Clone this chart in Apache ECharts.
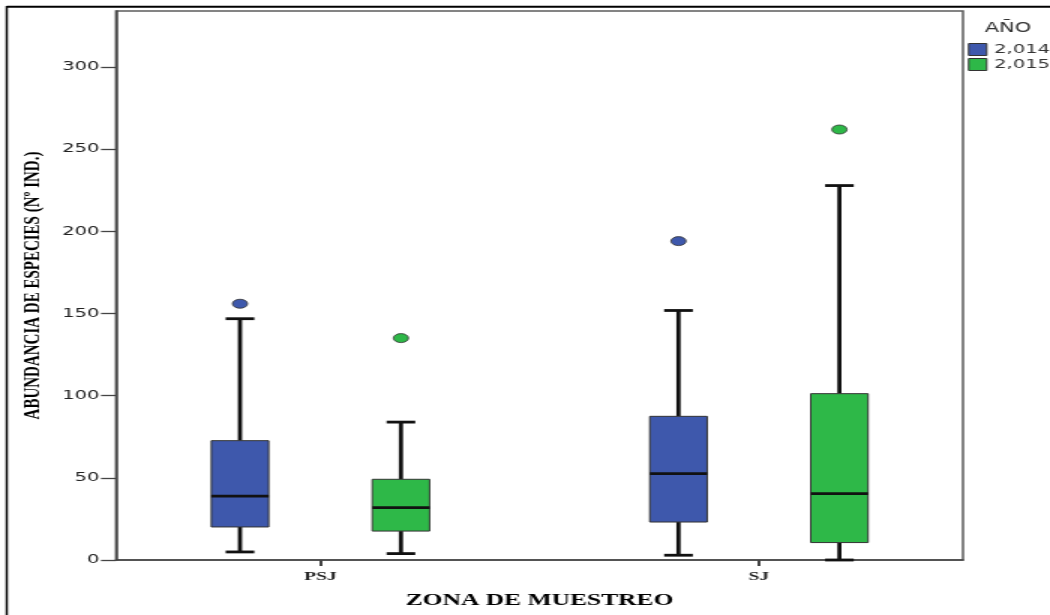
<!DOCTYPE html>
<html>
<head>
<meta charset="utf-8">
<title>Abundancia de especies por zona de muestreo</title>
<script src="https://cdn.jsdelivr.net/npm/echarts@6/dist/echarts.min.js"></script>
<style>
  html, body { margin: 0; padding: 0; background: #fff; overflow: hidden; }
  #wrap { width: 1050px; height: 615px; overflow: hidden; position: relative; background: #fff; }
  /* the chart is laid out narrow and widened horizontally, like the exported figure */
  #chart { width: 700px; height: 615px; transform: scaleX(1.5); transform-origin: 0 0; }
</style>
</head>
<body>
<div id="wrap"><div id="chart"></div></div>
<script>
// Sampling zones and survey years
const zones = ['PSJ', 'SJ'];
const years = ['2,014', '2,015'];

// Box summaries per zone: [lower whisker, Q1, median, Q3, upper whisker]
const stats2014 = [
  [4.9, 20.1, 38.9, 72.6, 146.8],   // PSJ
  [2.9, 23.1, 52.5, 87.4, 151.8]    // SJ
];
const stats2015 = [
  [3.9, 17.6, 31.9, 49.1, 83.9],    // PSJ
  [0.0, 10.6, 40.4, 101.2, 227.8]   // SJ
];

// Outlying observations per zone
const outliers2014 = [[155.9], [194.0]];
const outliers2015 = [[135.0], [261.9]];

// Vertical axis ticks
const yTicks = [0, 50, 100, 150, 200, 250, 300];

// ---- layout & style (not data) ----
const STRETCH = 1.5;                 // horizontal widening applied by CSS
const X_MAX = 10;                    // horizontal axis runs 0..10
const zoneCenter = [2.414, 7.591];   // centre of each zone's cluster
const yearOffset = [-0.95, 0.95];    // each year's shift inside a cluster
const BOX_W = 0.677;                 // box width in axis units
const colors = ['#3E58AC', '#2EB848'];
const statsByYear = [stats2014, stats2015];
const outliersByYear = [outliers2014, outliers2015];

function renderBox(params, api) {
  const x = api.value(0);
  const p = [1, 2, 3, 4, 5].map(function (d) { return api.coord([x, api.value(d)]); });
  const cx = p[0][0];
  const half = api.size([BOX_W, 0])[0] / 2;
  const cap = half / 2;
  const whisk = { stroke: '#111', lineWidth: 2.8 };
  return {
    type: 'group',
    children: [
      { type: 'line', shape: { x1: cx, y1: p[0][1], x2: cx, y2: p[1][1] }, style: whisk },
      { type: 'line', shape: { x1: cx, y1: p[3][1], x2: cx, y2: p[4][1] }, style: whisk },
      { type: 'line', shape: { x1: cx - cap, y1: p[0][1], x2: cx + cap, y2: p[0][1] }, style: whisk },
      { type: 'line', shape: { x1: cx - cap, y1: p[4][1], x2: cx + cap, y2: p[4][1] }, style: whisk },
      {
        type: 'rect',
        shape: { x: cx - half, y: p[3][1], width: half * 2, height: p[1][1] - p[3][1] },
        style: { fill: api.visual('color'), stroke: '#333', lineWidth: 1 }
      },
      { type: 'line', shape: { x1: cx - half, y1: p[2][1], x2: cx + half, y2: p[2][1] }, style: { stroke: '#111', lineWidth: 2.8 } }
    ]
  };
}

const series = [];
years.forEach(function (year, j) {
  series.push({
    name: year,
    type: 'custom',
    renderItem: renderBox,
    itemStyle: { color: colors[j] },
    encode: { x: 0, y: [1, 2, 3, 4, 5] },
    data: statsByYear[j].map(function (s, i) { return [zoneCenter[i] + yearOffset[j]].concat(s); }),
    z: 3
  });
  const pts = [];
  outliersByYear[j].forEach(function (vals, i) {
    vals.forEach(function (v) { pts.push([zoneCenter[i] + yearOffset[j], v]); });
  });
  series.push({
    name: year,
    type: 'scatter',
    symbol: 'circle',
    symbolSize: [10, 9],
    itemStyle: { color: colors[j], borderColor: '#333', borderWidth: 0.8, opacity: 1 },
    data: pts,
    z: 4
  });
});

const chart = echarts.init(document.getElementById('chart'), null, { renderer: 'canvas' });
chart.setOption({
  backgroundColor: '#fff',
  animation: false,
  title: {
    text: 'AÑO',
    left: 656.5, top: 21, padding: 0,
    textStyle: { fontFamily: 'DejaVu Sans', fontSize: 14, fontWeight: 'normal', color: '#333' }
  },
  legend: {
    data: years,
    orient: 'vertical',
    left: 645.3, top: 43, padding: 0,
    itemWidth: 12, itemHeight: 12, itemGap: 2,
    icon: 'rect',
    itemStyle: { borderColor: '#333', borderWidth: 1 },
    textStyle: { fontFamily: 'DejaVu Sans', fontSize: 13, color: '#333', lineHeight: 12 }
  },
  grid: {
    left: 116 / STRETCH, top: 11, width: (963 - 116) / STRETCH, height: 549,
    show: true, borderColor: '#5c5c5c', borderWidth: 1.5, backgroundColor: '#fff'
  },
  xAxis: {
    type: 'value', min: 0, max: X_MAX,
    name: 'ZONA DE MUESTREO', nameLocation: 'middle', nameGap: 32,
    nameTextStyle: { fontFamily: 'Liberation Serif', fontWeight: 'bold', fontSize: 17, color: '#000' },
    axisLine: { show: true, lineStyle: { color: '#444', width: 1.5 } },
    axisTick: { show: true, customValues: zoneCenter, length: 6, lineStyle: { color: '#444', width: 2 } },
    axisLabel: {
      customValues: zoneCenter, margin: 10,
      fontFamily: 'Liberation Serif', fontWeight: 'bold', fontSize: 13, color: '#222',
      formatter: function (v) { return zones[zoneCenter.indexOf(v)]; }
    },
    splitLine: { show: false }
  },
  yAxis: {
    type: 'value', min: 0, max: 334, interval: 50,
    name: 'ABUNDANCIA DE ESPECIES (Nº IND.)', nameLocation: 'middle', nameGap: 48,
    nameTextStyle: { fontFamily: 'Liberation Serif', fontWeight: 'bold', fontSize: 15, color: '#000' },
    axisLine: { show: true, lineStyle: { color: '#444', width: 1.5 } },
    axisTick: { show: true, customValues: yTicks, length: 10, lineStyle: { color: '#444', width: 1.3 } },
    axisLabel: { customValues: yTicks, margin: 11, fontFamily: 'DejaVu Sans', fontSize: 13, color: '#222' },
    splitLine: { show: false }
  },
  graphic: [
    // outer figure frame (top and left edges)
    { type: 'line', shape: { x1: 4.5, y1: 6.8, x2: 705, y2: 6.8 }, style: { stroke: '#000', lineWidth: 2 }, z: 10 },
    { type: 'line', shape: { x1: 4.5, y1: 6, x2: 4.5, y2: 620 }, style: { stroke: '#000', lineWidth: 1.5 }, z: 10 }
  ],
  series: series
});
</script>
</body>
</html>
